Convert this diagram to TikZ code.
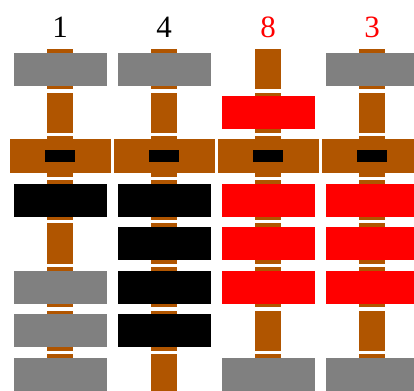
\documentclass[tikz,border=0pt]{standalone}
\usepackage{fontspec}
\setmainfont{Liberation Serif}
\definecolor{rodbrown}{RGB}{176,85,0}
\definecolor{beadgray}{RGB}{128,128,128}
\definecolor{beadred}{RGB}{255,0,0}
\tikzset{
  rodseg/.style={fill=rodbrown},
  beamseg/.style={fill=rodbrown},
  hole/.style={fill=black},
  digit/.style={anchor=base, font=\fontsize{31}{31}\selectfont, inner sep=0pt},
}
\begin{document}
\begin{tikzpicture}[x=1pt,y=-1pt]
\useasboundingbox (0,0) rectangle (414,390);
\clip (0,0) rectangle (414,390);
% rods and beams
\foreach \i in {0,1,2,3}{
  \pgfmathsetmacro{\cx}{60+104*\i}
  \foreach \r in {0,...,7}{
    \pgfmathsetmacro{\top}{47.4+43.6*\r}
    \fill[rodseg] (\cx-13,\top+1.6) rectangle (\cx+13,\top+42);
  }
  \pgfmathsetmacro{\cy}{47.4+43.6*2+21.8}
  \fill[beamseg] (\cx-50.5,\cy-17) rectangle (\cx+50.5,\cy+17);
  \fill[hole] (\cx-15,\cy-6) rectangle (\cx+15,\cy+6);
}
% beads: column/row/colour
\foreach \i/\r/\c in {0/0/beadgray,0/3/black,0/5/beadgray,0/6/beadgray,0/7/beadgray,
                      1/0/beadgray,1/3/black,1/4/black,1/5/black,1/6/black,
                      2/1/beadred,2/3/beadred,2/4/beadred,2/5/beadred,2/7/beadgray,
                      3/0/beadgray,3/3/beadred,3/4/beadred,3/5/beadred,3/7/beadgray}{
  \pgfmathsetmacro{\cx}{60+104*\i}
  \pgfmathsetmacro{\cy}{47.4+43.6*\r+21.8}
  \fill[\c] (\cx-46.5,\cy-16.5) rectangle (\cx+46.5,\cy+16.5);
}
% digits
\node[digit] (d1) at (60,37.7) {1};
\node[digit] (d2) at (164,37.7) {4};
\node[digit, text=beadred] (d3) at (268,37.7) {8};
\node[digit, text=beadred] (d4) at (372,37.7) {3};
\end{tikzpicture}
\end{document}
